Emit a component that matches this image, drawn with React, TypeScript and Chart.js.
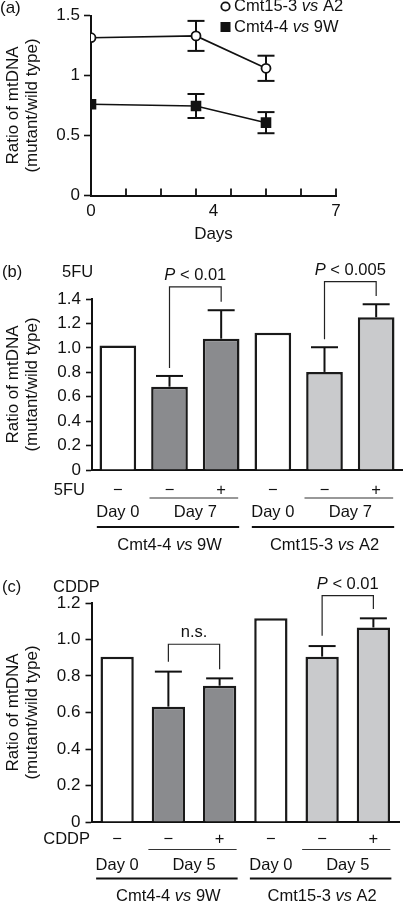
import React, { useEffect, useRef } from 'react';
import { Chart, registerables } from 'chart.js';

Chart.register(...registerables);

const FONT = '"Liberation Sans", Arial, Helvetica, sans-serif';
Chart.defaults.font.family = FONT;
Chart.defaults.color = '#111';

const INK = '#111';

// ---------------- Panel (a) data ----------------
const daysA = [0, 3, 5];
const cmt15Ratio = [1.315, 1.33, 1.06];
const cmt15Err = [0, 0.125, 0.105];
const cmt4Ratio = [0.76, 0.746, 0.607];
const cmt4Err = [0, 0.1, 0.088];
const dayTickValues = [0, 1, 2, 3, 4, 5, 6, 7];
const dayLabelPositions = [0, 3.5, 7];
const dayLabelTexts = ['0', '4', '7'];
const yTicksA = [0, 0.5, 1, 1.5];
const yTickLabelsA = ['0', '0.5', '1', '1.5'];
const xTitleA = 'Days';

// ---------------- Shared bar layout ----------------
const barSlots = ['Day 0 ctrl', 'Day X −', 'Day X +', 'Day 0 ctrl', 'Day X −', 'Day X +'];
const barColors = ['#ffffff', '#8a8b8e', '#8a8b8e', '#ffffff', '#c9cacc', '#c9cacc'];
const yTitleLines = ['Ratio of mtDNA', '(mutant/wild type)'];

// ---------------- Panel (b) data ----------------
const fuSigns = ['−', '−', '+', '−', '−', '+'];
const fuRatio = [1.02, 0.682, 1.075, 1.124, 0.803, 1.25];
const fuErr = [0, 0.088, 0.233, 0, 0.202, 0.107];
const yTicksB = [0, 0.2, 0.4, 0.6, 0.8, 1.0, 1.2, 1.4];
const yTickLabelsB = ['0', '0.2', '0.4', '0.6', '0.8', '1.0', '1.2', '1.4'];
const fuDayGroups = [
  { from: 0, to: 0, label: 'Day 0' },
  { from: 1, to: 2, label: 'Day 7' },
  { from: 3, to: 3, label: 'Day 0' },
  { from: 4, to: 5, label: 'Day 7' },
];
const fuBrackets = [
  { a: 1, b: 2, top: 1.5, leftEnd: 0.835, rightEnd: 1.378, label: [{ t: 'P', i: true }, { t: ' < 0.01' }] },
  { a: 4, b: 5, top: 1.542, leftEnd: 1.07, rightEnd: 1.425, label: [{ t: 'P', i: true }, { t: ' < 0.005' }] },
];

// ---------------- Panel (c) data ----------------
const cddpSigns = ['−', '−', '+', '−', '−', '+'];
const cddpRatio = [0.905, 0.632, 0.747, 1.116, 0.906, 1.066];
const cddpErr = [0, 0.192, 0.04, 0, 0.058, 0.05];
const yTicksC = [0, 0.2, 0.4, 0.6, 0.8, 1.0, 1.2];
const yTickLabelsC = ['0', '0.2', '0.4', '0.6', '0.8', '1.0', '1.2'];
const cddpDayGroups = [
  { from: 0, to: 0, label: 'Day 0' },
  { from: 1, to: 2, label: 'Day 5' },
  { from: 3, to: 3, label: 'Day 0' },
  { from: 4, to: 5, label: 'Day 5' },
];
const cddpBrackets = [
  { a: 1, b: 2, top: 0.974, leftEnd: 0.878, rightEnd: 0.837, label: [{ t: 'n.s.' }] },
  { a: 4, b: 5, top: 1.24, leftEnd: 1.021, rightEnd: 1.167, label: [{ t: 'P', i: true }, { t: ' < 0.01' }] },
];

const cellGroups = [
  { from: 0, to: 2, label: [{ t: 'Cmt4-4 ' }, { t: 'vs', i: true }, { t: ' 9W' }] },
  { from: 3, to: 5, label: [{ t: 'Cmt15-3 ' }, { t: 'vs', i: true }, { t: ' A2' }] },
];
const legendItems = [
  { style: 'circle', label: [{ t: 'Cmt15-3 ' }, { t: 'vs', i: true }, { t: ' A2' }] },
  { style: 'square', label: [{ t: 'Cmt4-4 ' }, { t: 'vs', i: true }, { t: ' 9W' }] },
];

type Seg = { t: string; i?: boolean };

function drawRich(ctx: CanvasRenderingContext2D, segs: Seg[], x: number, y: number, size: number, align: 'left' | 'center' | 'right') {
  ctx.save();
  ctx.fillStyle = INK;
  ctx.textBaseline = 'middle';
  ctx.textAlign = 'left';
  const widths = segs.map((s) => {
    ctx.font = `${s.i ? 'italic ' : ''}${size}px ${FONT}`;
    return ctx.measureText(s.t).width;
  });
  const total = widths.reduce((a, b) => a + b, 0);
  let cx = align === 'left' ? x : align === 'center' ? x - total / 2 : x - total;
  segs.forEach((s, k) => {
    ctx.font = `${s.i ? 'italic ' : ''}${size}px ${FONT}`;
    ctx.fillText(s.t, cx, y);
    cx += widths[k];
  });
  ctx.restore();
}

function drawText(ctx: CanvasRenderingContext2D, text: string, x: number, y: number, size: number, align: CanvasTextAlign) {
  ctx.save();
  ctx.fillStyle = INK;
  ctx.font = `${size}px ${FONT}`;
  ctx.textAlign = align;
  ctx.textBaseline = 'middle';
  ctx.fillText(text, x, y);
  ctx.restore();
}

function drawLine(ctx: CanvasRenderingContext2D, x1: number, y1: number, x2: number, y2: number, w: number, color = INK) {
  ctx.save();
  ctx.strokeStyle = color;
  ctx.lineWidth = w;
  ctx.beginPath();
  ctx.moveTo(x1, y1);
  ctx.lineTo(x2, y2);
  ctx.stroke();
  ctx.restore();
}

function drawYTitle(chart: any) {
  const { ctx, chartArea } = chart;
  const cy = (chartArea.top + chartArea.bottom) / 2;
  [13, 32].forEach((x, k) => {
    ctx.save();
    ctx.fillStyle = INK;
    ctx.font = `17px ${FONT}`;
    ctx.textAlign = 'center';
    ctx.textBaseline = 'middle';
    ctx.translate(x, cy);
    ctx.rotate(-Math.PI / 2);
    ctx.fillText(yTitleLines[k], 0, 0);
    ctx.restore();
  });
}

function yAxis(min: number, max: number, ticks: number[], labels: string[], width: number, tickLength: number, padding: number) {
  return {
    type: 'linear',
    min,
    max,
    afterBuildTicks: (s: any) => {
      s.ticks = ticks.map((v) => ({ value: v }));
    },
    ticks: {
      callback: (_v: any, i: number) => labels[i],
      font: { size: 17, family: FONT },
      color: INK,
      padding,
    },
    grid: { display: true, drawOnChartArea: false, drawTicks: true, tickLength, tickWidth: 1.6, tickColor: INK },
    border: { display: true, color: INK, width: 2 },
    afterFit: (s: any) => {
      s.width = width;
      s.paddingTop = 0;
      s.paddingBottom = 0;
    },
  };
}

// ---------------- Panel (a) config ----------------
function makeLineConfig(): any {
  const errPlugin = {
    id: 'errA',
    beforeDatasetsDraw(chart: any) {
      const { ctx } = chart;
      const xs = chart.scales.x;
      const ys = chart.scales.y;
      [
        [cmt15Ratio, cmt15Err],
        [cmt4Ratio, cmt4Err],
      ].forEach(([vals, errs]) => {
        vals.forEach((v: number, i: number) => {
          const e = errs[i];
          if (!e) return;
          const x = xs.getPixelForValue(daysA[i]);
          const y1 = ys.getPixelForValue(v + e);
          const y2 = ys.getPixelForValue(v - e);
          drawLine(ctx, x, y1, x, y2, 2);
          drawLine(ctx, x - 8.5, y1, x + 8.5, y1, 2);
          drawLine(ctx, x - 8.5, y2, x + 8.5, y2, 2);
        });
      });
    },
  };
  const annot = {
    id: 'annotA',
    afterDraw(chart: any) {
      const { ctx, chartArea } = chart;
      const xs = chart.scales.x;
      const bottom = chartArea.bottom;
      dayTickValues.forEach((v) => {
        const x = xs.getPixelForValue(v);
        drawLine(ctx, x, bottom, x, bottom - 7, 1.8);
      });
      dayLabelPositions.forEach((p, i) => {
        drawText(ctx, dayLabelTexts[i], xs.getPixelForValue(p), bottom + 15.5, 17, 'center');
      });
      drawText(ctx, xTitleA, (chartArea.left + chartArea.right) / 2, bottom + 38.5, 17, 'center');
      drawText(ctx, '(a)', 0, 8, 17, 'left');
      drawYTitle(chart);
      // legend
      legendItems.forEach((it, k) => {
        const y = 6.5 + k * 20.5;
        const x = 225.5;
        ctx.save();
        ctx.lineWidth = 1.8;
        ctx.strokeStyle = INK;
        if (it.style === 'circle') {
          ctx.fillStyle = '#fff';
          ctx.beginPath();
          ctx.arc(x, y, 4.2, 0, Math.PI * 2);
          ctx.fill();
          ctx.stroke();
        } else {
          ctx.fillStyle = INK;
          ctx.fillRect(x - 5, y - 5, 10, 10);
        }
        ctx.restore();
        drawRich(ctx, it.label as Seg[], 234, y, 16.5, 'left');
      });
    },
  };
  return {
    type: 'scatter',
    data: {
      datasets: [
        {
          label: 'Cmt15-3 vs A2',
          data: daysA.map((d, i) => ({ x: d, y: cmt15Ratio[i] })),
          showLine: true,
          borderColor: INK,
          borderWidth: 1.6,
          pointStyle: 'circle',
          pointRadius: 4.5,
          pointBackgroundColor: '#fff',
          pointBorderColor: INK,
          pointBorderWidth: 1.8,
        },
        {
          label: 'Cmt4-4 vs 9W',
          data: daysA.map((d, i) => ({ x: d, y: cmt4Ratio[i] })),
          showLine: true,
          borderColor: INK,
          borderWidth: 1.6,
          pointStyle: 'rect',
          pointRadius: 7.5,
          pointBackgroundColor: INK,
          pointBorderColor: INK,
          pointBorderWidth: 0,
        },
      ],
    },
    options: {
      responsive: false,
      animation: false,
      events: [],
      layout: { padding: { left: 0, top: 15.5, right: 69, bottom: 0 } },
      plugins: { legend: { display: false }, tooltip: { enabled: false } },
      scales: {
        x: {
          type: 'linear',
          min: 0,
          max: 7,
          grid: { display: false },
          border: { display: true, color: INK, width: 2 },
          ticks: { display: false },
          afterFit: (s: any) => {
            s.height = 54.5;
            s.paddingLeft = 0;
            s.paddingRight = 0;
          },
        },
        y: yAxis(0, 1.5, yTicksA, yTickLabelsA, 91, 7, 4),
      },
    },
    plugins: [errPlugin, annot],
  };
}

// ---------------- Panels (b), (c) config ----------------
function makeBarConfig(p: {
  panel: string;
  title: string;
  titleX: number;
  rowLabel: string;
  rowLabelX: number;
  values: number[];
  errors: number[];
  signs: string[];
  yMax: number;
  yTicks: number[];
  yLabels: string[];
  yWidth: number;
  padTop: number;
  padRight: number;
  xHeight: number;
  barPct: number;
  dayGroups: { from: number; to: number; label: string }[];
  brackets: { a: number; b: number; top: number; leftEnd: number; rightEnd: number; label: Seg[] }[];
  off: { sign: number; short: number; day: number; long: number; group: number; title: number };
}): any {
  const annot = {
    id: 'annot' + p.panel,
    afterDatasetsDraw(chart: any) {
      const { ctx } = chart;
      const xs = chart.scales.x;
      const ys = chart.scales.y;
      p.values.forEach((v, i) => {
        const e = p.errors[i];
        if (!e) return;
        const x = xs.getPixelForValue(i);
        const y1 = ys.getPixelForValue(v);
        const y2 = ys.getPixelForValue(v + e);
        drawLine(ctx, x, y1, x, y2, 2);
        drawLine(ctx, x - 13.5, y2, x + 13.5, y2, 2);
      });
    },
    afterDraw(chart: any) {
      const { ctx, chartArea } = chart;
      const xs = chart.scales.x;
      const ys = chart.scales.y;
      const base = chartArea.bottom;
      // brackets
      p.brackets.forEach((b) => {
        const xa = xs.getPixelForValue(b.a);
        const xb = xs.getPixelForValue(b.b);
        const yt = ys.getPixelForValue(b.top);
        ctx.save();
        ctx.strokeStyle = '#222';
        ctx.lineWidth = 1.2;
        ctx.beginPath();
        ctx.moveTo(xa, ys.getPixelForValue(b.leftEnd));
        ctx.lineTo(xa, yt);
        ctx.lineTo(xb, yt);
        ctx.lineTo(xb, ys.getPixelForValue(b.rightEnd));
        ctx.stroke();
        ctx.restore();
        drawRich(ctx, b.label, (xa + xb) / 2, yt - 11.5, 16.5, 'center');
      });
      // titles
      drawText(ctx, p.panel, 2, chartArea.top + p.off.title, 16.5, 'left');
      drawText(ctx, p.title, p.titleX, chartArea.top + p.off.title, 16.5, 'left');
      drawYTitle(chart);
      // sign row
      drawText(ctx, p.rowLabel, p.rowLabelX, base + p.off.sign, 16.5, 'right');
      p.signs.forEach((s, i) => drawText(ctx, s, xs.getPixelForValue(i), base + p.off.sign, 16.5, 'center'));
      // day groups
      p.dayGroups.forEach((g) => {
        const x1 = xs.getPixelForValue(g.from);
        const x2 = xs.getPixelForValue(g.to);
        if (g.to > g.from) {
          drawLine(ctx, x1 - 20, base + p.off.short, x2 + 17, base + p.off.short, 1.1, '#333');
        }
        drawText(ctx, g.label, (x1 + x2) / 2, base + p.off.day, 16.5, 'center');
      });
      // cell groups
      cellGroups.forEach((g) => {
        const x1 = xs.getPixelForValue(g.from);
        const x2 = xs.getPixelForValue(g.to);
        drawLine(ctx, x1 - 21, base + p.off.long, x2 + 18, base + p.off.long, 2);
        drawRich(ctx, g.label as Seg[], (x1 + x2) / 2, base + p.off.group, 16.5, 'center');
      });
    },
  };
  return {
    type: 'bar',
    data: {
      labels: barSlots,
      datasets: [
        {
          data: p.values,
          backgroundColor: barColors,
          borderColor: '#1a1a1a',
          borderWidth: 2.5,
          barPercentage: p.barPct,
          categoryPercentage: 1,
        },
      ],
    },
    options: {
      responsive: false,
      animation: false,
      events: [],
      layout: { padding: { left: 0, top: p.padTop, right: p.padRight, bottom: 0 } },
      plugins: { legend: { display: false }, tooltip: { enabled: false } },
      scales: {
        x: {
          type: 'category',
          offset: true,
          grid: { display: false },
          border: { display: true, color: INK, width: 2 },
          ticks: { display: false },
          afterFit: (s: any) => {
            s.height = p.xHeight;
            s.paddingLeft = 0;
            s.paddingRight = 0;
          },
        },
        y: yAxis(0, p.yMax, p.yTicks, p.yLabels, p.yWidth, 6, 5),
      },
    },
    plugins: [annot],
  };
}

function ChartCanvas({ top, height, make }: { top: number; height: number; make: () => any }) {
  const ref = useRef<HTMLCanvasElement>(null);
  useEffect(() => {
    const chart = new Chart(ref.current as HTMLCanvasElement, make());
    return () => chart.destroy();
  }, []);
  return (
    <canvas
      ref={ref}
      width={405}
      height={height}
      style={{ position: 'absolute', left: 0, top, width: 405, height, display: 'block' }}
    />
  );
}

export default function App() {
  return (
    <div style={{ position: 'absolute', left: 0, top: 0, width: 405, height: 902, background: '#fff', overflow: 'hidden' }}>
      <ChartCanvas top={0} height={250} make={makeLineConfig} />
      <ChartCanvas
        top={250}
        height={310}
        make={() =>
          makeBarConfig({
            panel: '(b)',
            title: '5FU',
            titleX: 62,
            rowLabel: '5FU',
            rowLabelX: 85,
            values: fuRatio,
            errors: fuErr,
            signs: fuSigns,
            yMax: 1.4,
            yTicks: yTicksB,
            yLabels: yTickLabelsB,
            yWidth: 92,
            padTop: 49,
            padRight: 3,
            xHeight: 90,
            barPct: 0.71,
            dayGroups: fuDayGroups,
            brackets: fuBrackets,
            off: { sign: 20, short: 28, day: 42, long: 57, group: 75, title: -27 },
          })
        }
      />
      <ChartCanvas
        top={560}
        height={342}
        make={() =>
          makeBarConfig({
            panel: '(c)',
            title: 'CDDP',
            titleX: 53,
            rowLabel: 'CDDP',
            rowLabelX: 90,
            values: cddpRatio,
            errors: cddpErr,
            signs: cddpSigns,
            yMax: 1.2,
            yTicks: yTicksC,
            yLabels: yTickLabelsC,
            yWidth: 91.5,
            padTop: 43,
            padRight: 6,
            xHeight: 80,
            barPct: 0.65,
            dayGroups: cddpDayGroups,
            brackets: cddpBrackets,
            off: { sign: 17.5, short: 27.5, day: 43, long: 56.5, group: 74, title: -16 },
          })
        }
      />
    </div>
  );
}
